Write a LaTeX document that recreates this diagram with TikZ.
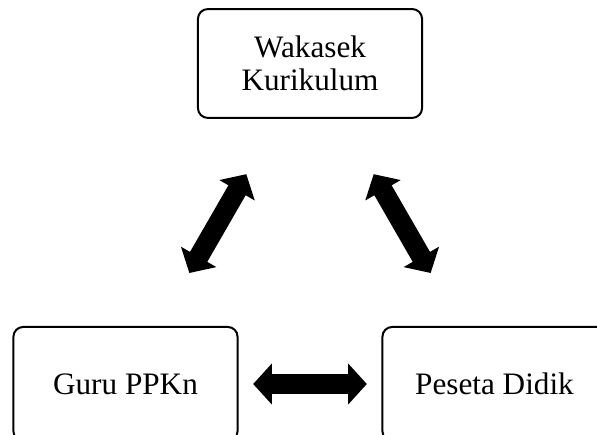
\documentclass[tikz,border=0pt]{standalone}
\usepackage{fontspec}
\setmainfont{Liberation Serif}
\usetikzlibrary{arrows.meta}

\tikzset{
    box/.style={draw, line width=1.5pt, rounded corners=0.26cm, align=center,
        minimum width=5.93cm, minimum height=2.88cm,
        font=\fontsize{23.5}{24.5}\selectfont},
    bigarrow/.style={line width=15pt,
        {Triangle[length=14pt, width=30pt]}-{Triangle[length=14pt, width=30pt]}}
}

\begin{document}
\begin{tikzpicture}
    \clip (0, 0) rectangle (15.795, 11.483);

    \node[box] (wakasek) at (8.202, 9.803) {Wakasek\\Kurikulum};
    \node[box, minimum height=3.02cm] (guru) at (3.320, 1.323) {Guru PPKn};
    \node[box, minimum height=3.02cm] (peseta) at (13.083, 1.323) {Peseta Didik};

    \draw[bigarrow, shorten <=48pt, shorten >=46pt] (wakasek) -- (guru);
    \draw[bigarrow, shorten <=48pt, shorten >=46pt] (wakasek) -- (peseta);
    \draw[bigarrow, shorten <=11pt, shorten >=11pt] (guru) -- (peseta);
\end{tikzpicture}
\end{document}
